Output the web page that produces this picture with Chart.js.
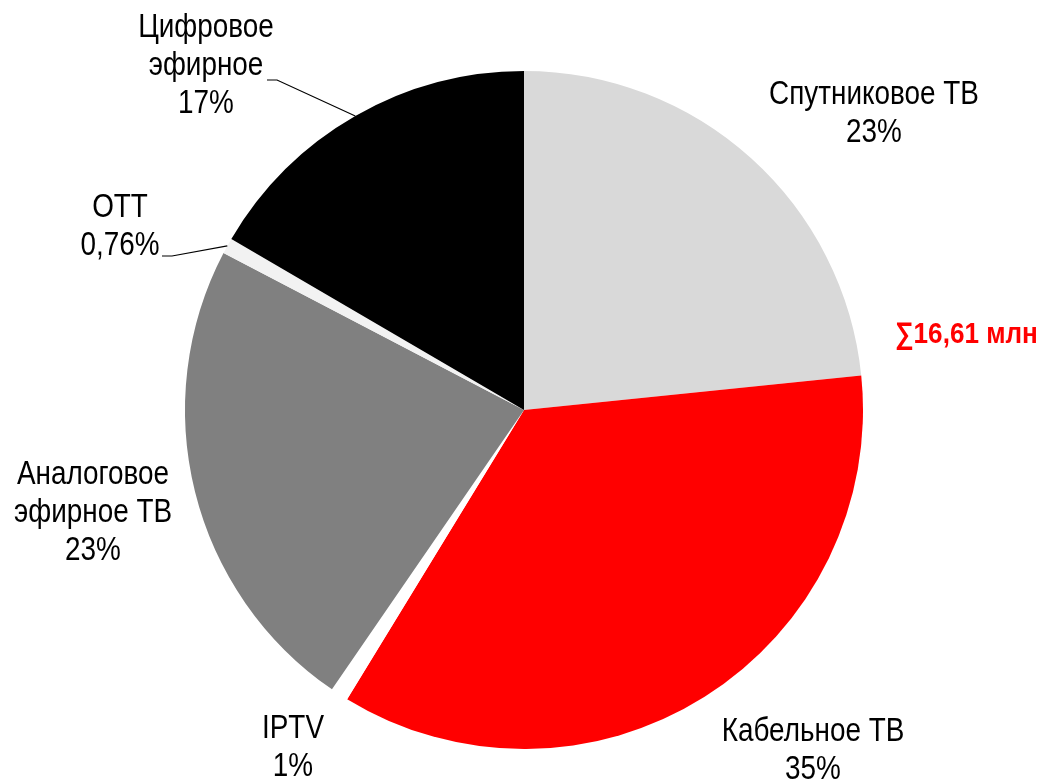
<!DOCTYPE html>
<html>
<head>
<meta charset="utf-8">
<script src="https://cdn.jsdelivr.net/npm/chart.js@4"></script>
<style>
  html, body { margin: 0; padding: 0; background: #fff; }
  #wrap { width: 1053px; height: 781px; }
</style>
</head>
<body>
<div id="wrap"><canvas id="myChart" width="1053" height="781"></canvas></div>
<script>
const categories = ['Спутниковое ТВ', 'Кабельное ТВ', 'IPTV', 'Аналоговое эфирное ТВ', 'OTT', 'Цифровое эфирное']
const shares = [23.4, 35.4, 0.85, 23.1, 0.76, 16.6]
const shareLabels = ['23%', '35%', '1%', '23%', '0,76%', '17%']
const nameLines = [['Спутниковое ТВ'], ['Кабельное ТВ'], ['IPTV'], ['Аналоговое', 'эфирное ТВ'], ['OTT'], ['Цифровое', 'эфирное']]
const colors = ['#d9d9d9', '#ff0000', '#ffffff', '#808080', '#f2f2f2', '#000000']
const total = '∑16,61 млн'

// label block centre x, first baseline y, optional leader start
const labelLayout = [
  { x: 874, y: 104 },
  { x: 813, y: 741 },
  { x: 293, y: 738 },
  { x: 93, y: 484 },
  { x: 120, y: 217, lead: [162, 256, 172, 256] },
  { x: 206, y: 37, lead: [267, 80, 277, 80] },
]

const FONT = '"Liberation Sans", Arial, sans-serif'
const LINE = 38
const NARROW = 0.82

function narrowText(ctx, t, x, y, sx) {
  ctx.save()
  ctx.translate(x, y)
  ctx.scale(sx, 1)
  ctx.fillText(t, 0, 0)
  ctx.restore()
}

const labelPlugin = {
  id: 'labels',
  afterDatasetsDraw(chart) {
    const ctx = chart.ctx
    const arcs = chart.getDatasetMeta(0).data
    ctx.save()
    ctx.textAlign = 'center'
    ctx.textBaseline = 'alphabetic'
    ctx.fillStyle = '#000'
    ctx.font = '34px ' + FONT
    labelLayout.forEach((l, i) => {
      const lines = nameLines[i].concat([shareLabels[i]])
      lines.forEach((t, k) => narrowText(ctx, t, l.x, l.y + k * LINE, NARROW))
      if (l.lead) {
        const a = arcs[i]
        const mid = (a.startAngle + a.endAngle) / 2
        const ex = a.x + Math.cos(mid) * a.outerRadius
        const ey = a.y + Math.sin(mid) * a.outerRadius
        ctx.strokeStyle = '#000'
        ctx.lineWidth = 1.2
        ctx.beginPath()
        ctx.moveTo(l.lead[0], l.lead[1])
        ctx.lineTo(l.lead[2], l.lead[3])
        ctx.lineTo(ex, ey)
        ctx.stroke()
      }
    })
    ctx.fillStyle = '#ff0000'
    ctx.font = 'bold 30px ' + FONT
    ctx.textAlign = 'left'
    narrowText(ctx, total, 895, 343, 0.87)
    ctx.restore()
  },
}

new Chart(document.getElementById('myChart').getContext('2d'), {
  type: 'pie',
  data: {
    labels: categories,
    datasets: [
      {
        data: shares,
        backgroundColor: colors,
        borderWidth: 0,
      },
    ],
  },
  options: {
    responsive: false,
    animation: false,
    layout: { padding: { left: 185, right: 190, top: 71, bottom: 32 } },
    plugins: {
      legend: { display: false },
      tooltip: { enabled: false },
    },
  },
  plugins: [labelPlugin],
})
</script>
</body>
</html>
